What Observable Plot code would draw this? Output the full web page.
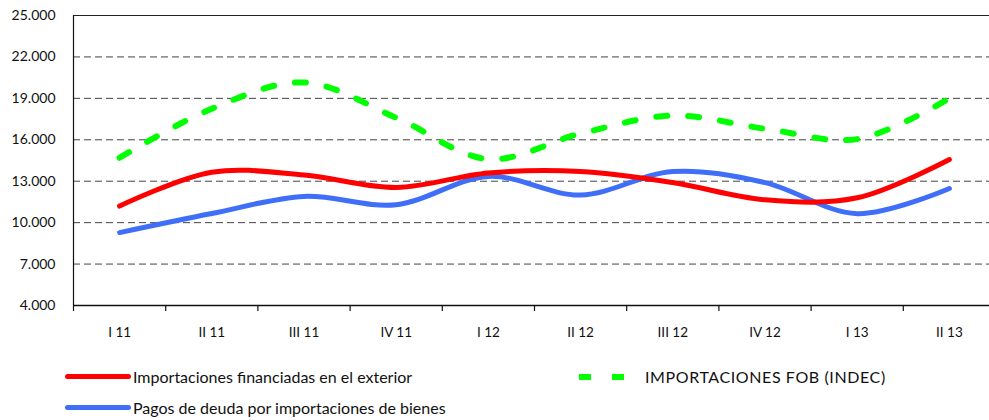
<!DOCTYPE html>
<html>
<head>
<meta charset="utf-8">
<script src="https://cdn.jsdelivr.net/npm/d3@7"></script>
<script src="https://cdn.jsdelivr.net/npm/@observablehq/plot@0.6"></script>
<style>
  html, body { margin: 0; padding: 0; background: #fff; }
  body { width: 989px; height: 420px; overflow: hidden; font-family: Lato, "Open Sans", sans-serif; color: #111; }
  #chart svg { display: block; }
  .legend { position: relative; height: 68px; font-size: 16px; }
  .item { position: absolute; display: flex; align-items: center; }
  .swatch { display: inline-block; }
</style>
</head>
<body>
<div id="chart"></div>
<div class="legend" id="legend"></div>
<script>
const quarters = ["I 11","II 11","III 11","IV 11","I 12","II 12","III 12","IV 12","I 13","II 13"];
const financiadas = [11200, 13650, 13450, 12550, 13600, 13700, 12900, 11650, 11800, 14570];
const pagosDeuda  = [9280, 10660, 11900, 11300, 13350, 12000, 13700, 12900, 10650, 12470];
const fobIndec    = [14700, 18250, 20150, 17600, 14600, 16450, 17750, 16800, 16050, 19000];
const yTicks = [4000, 7000, 10000, 13000, 16000, 19000, 22000, 25000];

const seriesNames = ["Importaciones financiadas en el exterior", "Pagos de deuda por importaciones de bienes", "IMPORTACIONES FOB (INDEC)"];
const colors = {red: "#ff0000", blue: "#3f6ff8", green: "#00ff00"};

const rows = (vals, name) => vals.map((v, i) => ({i, v, name}));
const redData = rows(financiadas, seriesNames[0]);
const blueData = rows(pagosDeuda, seriesNames[1]);
const greenData = rows(fobIndec, seriesNames[2]);

const fmt = d3.format(",");
const esFmt = v => fmt(v).replace(/,/g, ".");

const boundaries = d3.range(quarters.length).map(i => i - 0.5);

const chart = Plot.plot({
  width: 989,
  height: 352,
  marginTop: 15,
  marginBottom: 47,
  marginLeft: 73,
  marginRight: 0,
  style: {fontFamily: "Lato, 'Open Sans', sans-serif", color: "#111", background: "#fff"},
  x: {type: "linear", domain: [-0.5, quarters.length - 0.5], range: [73, 995]},
  y: {domain: [4000, 25000], range: [305, 15]},
  marks: [
    Plot.ruleY(yTicks.filter(t => t > 4000 && t < 25000), {stroke: "#444", strokeWidth: 1, strokeDasharray: "7,4"}),
    Plot.ruleY([25000], {stroke: "#222", strokeWidth: 1.2}),
    Plot.ruleY([4000], {stroke: "#111", strokeWidth: 1.5}),
    Plot.ruleX([-0.5], {stroke: "#111", strokeWidth: 1.2}),
    Plot.axisY({ticks: yTicks, tickSize: 0, tickPadding: 18, tickFormat: esFmt, fontSize: 14, label: null}),
    Plot.axisX({ticks: boundaries, tickSize: 6, tickFormat: () => "", label: null, strokeWidth: 1.2}),
    Plot.axisX({ticks: d3.range(quarters.length), tickSize: 0, tickPadding: 22, tickFormat: i => quarters[i], fontSize: 13.5, label: null}),
    Plot.line(greenData, {x: "i", y: "v", stroke: colors.green, strokeWidth: 6, strokeDasharray: "11,21", curve: "catmull-rom"}),
    Plot.line(blueData, {x: "i", y: "v", stroke: colors.blue, strokeWidth: 5, strokeLinecap: "round", curve: "catmull-rom"}),
    Plot.line(redData, {x: "i", y: "v", stroke: colors.red, strokeWidth: 5, strokeLinecap: "round", curve: "catmull-rom"})
  ]
});
document.getElementById("chart").append(chart);

const legend = document.getElementById("legend");
function addItem(left, top, swatchHtml, text, extraStyle) {
  const el = document.createElement("div");
  el.className = "item";
  el.style.left = left + "px";
  el.style.top = top + "px";
  el.innerHTML = swatchHtml + `<span style="${extraStyle || ""}">${text}</span>`;
  legend.append(el);
}
const solid = c => `<span class="swatch" style="width:66px;height:5px;border-radius:3px;background:${c};margin-right:2px"></span>`;
const dashed = c => `<span class="swatch" style="width:12px;height:6px;background:${c};margin-right:21px"></span><span class="swatch" style="width:12px;height:6px;background:${c};margin-right:21px"></span>`;
addItem(65, 15, solid(colors.red), seriesNames[0]);
addItem(65, 46, solid(colors.blue), seriesNames[1]);
addItem(579, 15, dashed(colors.green), seriesNames[2], "letter-spacing:0.6px");
</script>
</body>
</html>
